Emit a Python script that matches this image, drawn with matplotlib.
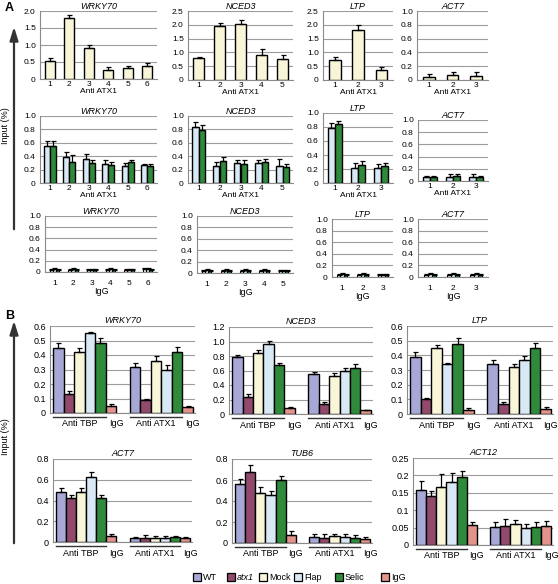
import numpy as np
import matplotlib
matplotlib.use('Agg')
import matplotlib.pyplot as plt
import matplotlib.patches as mpatches
from matplotlib.transforms import blended_transform_factory

plt.rcParams['font.family'] = ['Liberation Sans', 'DejaVu Sans']

# ── Colours ──────────────────────────────────────────────────────────────────
C_WT    = '#a7a8d6'
C_ATX1  = '#914a6c'
C_MOCK  = '#f8f5d9'
C_FLAP  = '#d8e8f4'
C_SELIC = '#2f8b3b'
C_IGG   = '#e2938c'
GRID    = '#9c9c9c'
SPINE   = '#8a8a8a'

# ── Panel A data ─────────────────────────────────────────────────────────────
A1_WRKY70 = [0.52, 1.78, 0.90, 0.27, 0.32, 0.37]
A1_WRKY70_ERR = [0.10, 0.10, 0.10, 0.08, 0.07, 0.10]
A1_NCED3 = [0.80, 1.95, 2.02, 0.92, 0.75]
A1_NCED3_ERR = [0.05, 0.12, 0.15, 0.22, 0.15]
A1_LTP = [0.73, 1.80, 0.35]
A1_LTP_ERR = [0.12, 0.20, 0.12]
A1_ACT7 = [0.05, 0.07, 0.06]
A1_ACT7_ERR = [0.04, 0.05, 0.05]

A2_WRKY70_FLAP = [0.55, 0.39, 0.36, 0.29, 0.26, 0.27]
A2_WRKY70_FLAP_ERR = [0.08, 0.08, 0.07, 0.05, 0.04, 0.02]
A2_WRKY70_SELIC = [0.55, 0.32, 0.30, 0.27, 0.31, 0.26]
A2_WRKY70_SELIC_ERR = [0.07, 0.10, 0.05, 0.04, 0.03, 0.03]
A2_NCED3_FLAP = [0.84, 0.26, 0.30, 0.30, 0.26]
A2_NCED3_FLAP_ERR = [0.07, 0.05, 0.05, 0.05, 0.10]
A2_NCED3_SELIC = [0.79, 0.33, 0.28, 0.32, 0.24]
A2_NCED3_SELIC_ERR = [0.07, 0.06, 0.06, 0.04, 0.04]
A2_LTP_FLAP = [0.79, 0.22, 0.21]
A2_LTP_FLAP_ERR = [0.06, 0.07, 0.06]
A2_LTP_SELIC = [0.84, 0.26, 0.24]
A2_LTP_SELIC_ERR = [0.05, 0.05, 0.04]
A2_ACT7_FLAP = [0.07, 0.07, 0.07]
A2_ACT7_FLAP_ERR = [0.02, 0.04, 0.04]
A2_ACT7_SELIC = [0.06, 0.08, 0.06]
A2_ACT7_SELIC_ERR = [0.02, 0.04, 0.03]

A3_WRKY70 = [[0.04, 0.04, 0.04, 0.04, 0.03, 0.05],
             [0.05, 0.05, 0.04, 0.05, 0.04, 0.05],
             [0.04, 0.04, 0.04, 0.04, 0.04, 0.04]]
A3_NCED3 = [[0.04, 0.04, 0.04, 0.04, 0.04],
            [0.05, 0.05, 0.05, 0.05, 0.04],
            [0.04, 0.04, 0.04, 0.04, 0.04]]
A3_LTP = [[0.04, 0.04, 0.03], [0.05, 0.05, 0.04], [0.04, 0.04, 0.04]]
A3_ACT7 = [[0.04, 0.04, 0.04], [0.05, 0.05, 0.05], [0.04, 0.04, 0.04]]
A3_ERR = 0.02

# ── Panel B data (WT, atx1, Mock, Flap, Selic, IgG) ──────────────────────────
B_NAMES = ['WT', 'atx1', 'Mock', 'Flap', 'Selic', 'IgG']
B_WRKY70_TBP = [0.45, 0.13, 0.42, 0.55, 0.48, 0.05]
B_WRKY70_TBP_ERR = [0.03, 0.02, 0.03, 0.01, 0.035, 0.01]
B_WRKY70_ATX1 = [0.32, 0.09, 0.36, 0.30, 0.42, 0.04]
B_WRKY70_ATX1_ERR = [0.025, 0.01, 0.03, 0.03, 0.035, 0.01]
B_NCED3_TBP = [0.79, 0.24, 0.84, 0.96, 0.68, 0.08]
B_NCED3_TBP_ERR = [0.03, 0.03, 0.04, 0.05, 0.03, 0.01]
B_NCED3_ATX1 = [0.55, 0.14, 0.52, 0.59, 0.63, 0.05]
B_NCED3_ATX1_ERR = [0.03, 0.03, 0.04, 0.04, 0.06, 0.01]
B_LTP_TBP = [0.39, 0.105, 0.45, 0.34, 0.48, 0.03]
B_LTP_TBP_ERR = [0.03, 0.005, 0.02, 0.005, 0.035, 0.01]
B_LTP_ATX1 = [0.34, 0.07, 0.32, 0.365, 0.45, 0.035]
B_LTP_ATX1_ERR = [0.03, 0.015, 0.02, 0.03, 0.035, 0.01]
B_ACT7_TBP = [0.48, 0.42, 0.48, 0.63, 0.42, 0.06]
B_ACT7_TBP_ERR = [0.04, 0.03, 0.04, 0.04, 0.03, 0.015]
B_ACT7_ATX1 = [0.04, 0.04, 0.04, 0.035, 0.05, 0.035]
B_ACT7_ATX1_ERR = [0.01, 0.03, 0.02, 0.02, 0.01, 0.01]
B_TUB6_TBP = [0.56, 0.68, 0.48, 0.46, 0.60, 0.08]
B_TUB6_TBP_ERR = [0.05, 0.06, 0.05, 0.04, 0.04, 0.03]
B_TUB6_ATX1 = [0.06, 0.05, 0.065, 0.06, 0.05, 0.04]
B_TUB6_ATX1_ERR = [0.03, 0.04, 0.02, 0.03, 0.03, 0.02]
B_ACT12_TBP = [0.158, 0.14, 0.168, 0.182, 0.196, 0.057]
B_ACT12_TBP_ERR = [0.026, 0.014, 0.037, 0.025, 0.017, 0.01]
B_ACT12_ATX1 = [0.052, 0.056, 0.059, 0.048, 0.051, 0.056]
B_ACT12_ATX1_ERR = [0.014, 0.02, 0.012, 0.013, 0.016, 0.013]

# ── Tick labels ──────────────────────────────────────────────────────────────
T_25 = [0, 0.5, 1.0, 1.5, 2.0, 2.5]
L_25 = ['0', '0.5', '1.0', '1.5', '2.0', '2.5']
T_20 = [0, 0.5, 1.0, 1.5, 2.0]
L_20 = ['0', '0.5', '1.0', '1.5', '2.0']
T_10 = [0, 0.2, 0.4, 0.6, 0.8, 1.0]
L_10 = ['0', '0.2', '0.4', '0.6', '0.8', '1.0']
T_06 = [0, 0.1, 0.2, 0.3, 0.4, 0.5, 0.6]
L_06 = ['0', '0.1', '0.2', '0.3', '0.4', '0.5', '0.6']
T_12 = [0, 0.2, 0.4, 0.6, 0.8, 1.0, 1.2]
L_12 = ['0', '0.2', '0.4', '0.6', '0.8', '1.0', '1.2']
T_08 = [0, 0.2, 0.4, 0.6, 0.8]
L_08 = ['0', '0.2', '0.4', '0.6', '0.8']
T_025 = [0, 0.05, 0.1, 0.15, 0.2, 0.25]
L_025 = ['0', '0.05', '0.1', '0.15', '0.2', '0.25']

# ── Canvas ───────────────────────────────────────────────────────────────────
W, H = 558, 584
fig = plt.figure(figsize=(W / 100, H / 100), dpi=100)
fig.patch.set_facecolor('white')

bg = fig.add_axes([0, 0, 1, 1])
bg.set_xlim(0, W)
bg.set_ylim(H, 0)
bg.axis('off')


def px_axes(l, r, t, b):
    return fig.add_axes([l / W, 1 - b / H, (r - l) / W, (b - t) / H])


def style(ax, ticks, labels, title, fs=6):
    ax.set_ylim(ticks[0], ticks[-1])
    ax.set_yticks(ticks)
    ax.set_yticklabels(labels, fontsize=fs)
    ax.yaxis.grid(True, color=GRID, lw=0.8)
    ax.set_axisbelow(True)
    for s in ('top', 'right'):
        ax.spines[s].set_visible(False)
    ax.spines['left'].set_color(SPINE)
    ax.spines['bottom'].set_color(SPINE)
    ax.spines['left'].set_linewidth(0.8)
    ax.spines['bottom'].set_linewidth(0.8)
    ax.tick_params(axis='y', length=0, pad=3)
    ax.tick_params(axis='x', length=0, labelsize=fs)
    ax.set_title(title, fontsize=6.5, style='italic', pad=1)


def bars(ax, x, vals, errs, color, width, lw=1.0):
    vals = np.asarray(vals)
    errs = np.broadcast_to(np.asarray(errs, dtype=float), vals.shape)
    ax.bar(x, vals, width=width, color=color, edgecolor='black', lw=lw, zorder=3)
    ax.errorbar(x, vals, yerr=[np.zeros_like(errs), errs], fmt='none',
                ecolor='black', elinewidth=0.9, capsize=1.8, capthick=0.9, zorder=4)


# ── Panel A ──────────────────────────────────────────────────────────────────
row1 = [
    ((40, 157, 11, 79), 'WRKY70', A1_WRKY70, A1_WRKY70_ERR, T_20, L_20),
    ((188, 293, 11, 80), 'NCED3', A1_NCED3, A1_NCED3_ERR, T_25, L_25),
    ((323, 393, 11, 80), 'LTP', A1_LTP, A1_LTP_ERR, T_25, L_25),
    ((417, 488, 11, 80), 'ACT7', A1_ACT7, A1_ACT7_ERR, T_10, L_10),
]
for rect, gene, vals, errs, ticks, labels in row1:
    ax = px_axes(*rect)
    x = np.arange(1, len(vals) + 1)
    bars(ax, x, vals, errs, C_MOCK, 0.5)
    ax.set_xlim(0.5, len(vals) + 0.5)
    style(ax, ticks, labels, gene)
    ax.set_xticks(x)
    ax.tick_params(axis='x', pad=1.5)
    ax.set_xlabel('Anti ATX1', fontsize=6, labelpad=0)

row2 = [
    ((40, 157, 116, 183), 'WRKY70', A2_WRKY70_FLAP, A2_WRKY70_FLAP_ERR,
     A2_WRKY70_SELIC, A2_WRKY70_SELIC_ERR),
    ((188, 293, 116, 183), 'NCED3', A2_NCED3_FLAP, A2_NCED3_FLAP_ERR,
     A2_NCED3_SELIC, A2_NCED3_SELIC_ERR),
    ((323, 393, 113, 183), 'LTP', A2_LTP_FLAP, A2_LTP_FLAP_ERR,
     A2_LTP_SELIC, A2_LTP_SELIC_ERR),
    ((418, 488, 120, 181), 'ACT7', A2_ACT7_FLAP, A2_ACT7_FLAP_ERR,
     A2_ACT7_SELIC, A2_ACT7_SELIC_ERR),
]
for rect, gene, fv, fe, sv, se in row2:
    ax = px_axes(*rect)
    x = np.arange(1, len(fv) + 1)
    bars(ax, x - 0.15, fv, fe, C_FLAP, 0.3)
    bars(ax, x + 0.15, sv, se, C_SELIC, 0.3)
    ax.set_xlim(0.5, len(fv) + 0.5)
    style(ax, T_10, L_10, gene)
    ax.set_xticks(x)
    ax.tick_params(axis='x', pad=1.5)
    ax.set_xlabel('Anti ATX1', fontsize=6, labelpad=0)

row3 = [
    ((45, 157, 216, 272), 'WRKY70', A3_WRKY70),
    ((197, 293, 216, 273), 'NCED3', A3_NCED3),
    ((332, 393, 219, 277), 'LTP', A3_LTP),
    ((418, 488, 219, 277), 'ACT7', A3_ACT7),
]
for rect, gene, series in row3:
    ax = px_axes(*rect)
    n = len(series[0])
    x = np.arange(1, n + 1)
    for k, (vals, col) in enumerate(zip(series, [C_MOCK, C_FLAP, C_SELIC])):
        bars(ax, x + (k - 1) * 0.17, vals, A3_ERR, col, 0.17, lw=0.8)
    ax.set_xlim(0.5, n + 0.5)
    style(ax, T_10, L_10, gene)
    ax.set_xticks(x)
    ax.tick_params(axis='x', pad=6)
    ax.set_xlabel('IgG', fontsize=6.5, labelpad=0)

# ── Panel B ──────────────────────────────────────────────────────────────────
B_COLORS = [C_WT, C_ATX1, C_MOCK, C_FLAP, C_SELIC, C_IGG]
G1 = np.arange(6)
G2 = np.arange(6) + 7.3

panelB = [
    ((50, 195, 326, 413), 'WRKY70', B_WRKY70_TBP, B_WRKY70_TBP_ERR,
     B_WRKY70_ATX1, B_WRKY70_ATX1_ERR, T_06, L_06),
    ((229, 373, 327, 414), 'NCED3', B_NCED3_TBP, B_NCED3_TBP_ERR,
     B_NCED3_ATX1, B_NCED3_ATX1_ERR, T_12, L_12),
    ((407, 553, 326, 414), 'LTP', B_LTP_TBP, B_LTP_TBP_ERR,
     B_LTP_ATX1, B_LTP_ATX1_ERR, T_06, L_06),
    ((53, 192, 459, 542), 'ACT7', B_ACT7_TBP, B_ACT7_TBP_ERR,
     B_ACT7_ATX1, B_ACT7_ATX1_ERR, T_08, L_08),
    ((232, 372, 459, 543), 'TUB6', B_TUB6_TBP, B_TUB6_TBP_ERR,
     B_TUB6_ATX1, B_TUB6_ATX1_ERR, T_08, L_08),
    ((413, 553, 458, 545), 'ACT12', B_ACT12_TBP, B_ACT12_TBP_ERR,
     B_ACT12_ATX1, B_ACT12_ATX1_ERR, T_025, L_025),
]
for rect, gene, tv, te, av, ae, ticks, labels in panelB:
    ax = px_axes(*rect)
    bars(ax, G1, tv, te, B_COLORS, 1.0)
    bars(ax, G2, av, ae, B_COLORS, 1.0)
    ax.set_xlim(-0.8, 13.0)
    style(ax, ticks, labels, gene, fs=6.5)
    ax.set_title(gene, fontsize=6.5, style='italic', pad=2)
    ax.set_xticks([])
    h = rect[3] - rect[2]
    tr = blended_transform_factory(ax.transData, ax.transAxes)
    for g, name in ((G1, 'Anti TBP'), (G2, 'Anti ATX1')):
        ax.plot([g[0] - 0.5, g[4] + 0.5], [-4 / h, -4 / h], color='#333333',
                lw=1.0, transform=tr, clip_on=False)
        ax.text(g[2], -11 / h, name, fontsize=6.5, ha='center', va='center',
                transform=tr)
        ax.text(g[5] + 0.5, -11 / h, 'IgG', fontsize=6.5, ha='center',
                va='center', transform=tr)

# ── Panel labels, arrows, y titles ───────────────────────────────────────────
bg.text(5, 8, 'A', fontsize=9, fontweight='bold', ha='left', va='center')
bg.text(5, 316, 'B', fontsize=9, fontweight='bold', ha='left', va='center')
for y0, y1, ylab in ((232, 24, 126), (546, 318, 437)):
    bg.annotate('', xy=(14, y1), xytext=(14, y0),
                arrowprops=dict(arrowstyle='-|>,head_width=0.25,head_length=0.8',
                                color='#333333', lw=1.6))
    bg.text(6, ylab, 'Input (%)', fontsize=6.5, rotation=90,
            ha='center', va='center')

# ── Legend ───────────────────────────────────────────────────────────────────
LEG_X = [193, 227, 259, 294, 335, 381]
for lx, name, col in zip(LEG_X, B_NAMES, B_COLORS):
    bg.add_patch(mpatches.Rectangle((lx, 573), 8, 8, facecolor=col,
                                    edgecolor='black', lw=0.9))
    bg.text(lx + 10, 577.5, name, fontsize=6.5, ha='left', va='center',
            style='italic' if name == 'atx1' else 'normal')

fig.savefig('out.png', dpi=100, facecolor='white')
plt.close(fig)
